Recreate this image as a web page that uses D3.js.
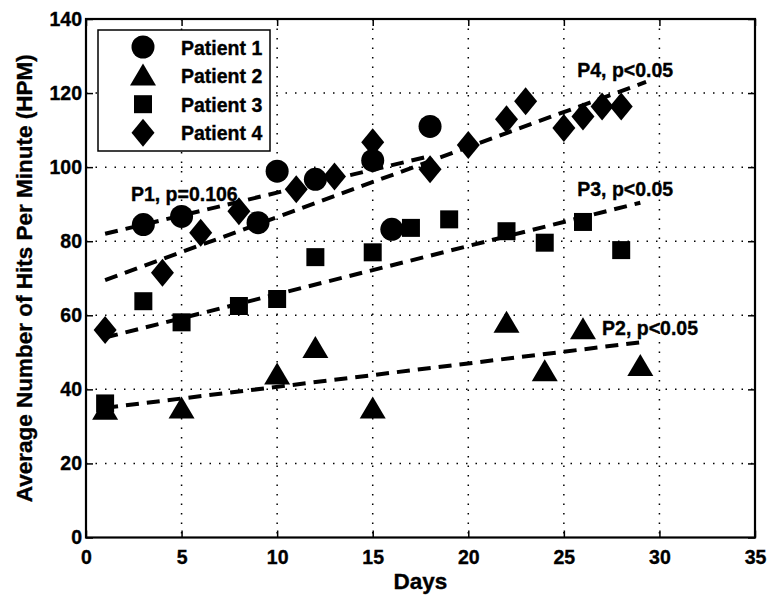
<!DOCTYPE html>
<html>
<head>
<meta charset="utf-8">
<script src="https://cdn.jsdelivr.net/npm/d3@7"></script>
<style>
  body { margin: 0; background: #fff; }
  svg { display: block; }
  text { font-family: "Liberation Sans", Arial, Helvetica, sans-serif; font-weight: bold; fill: #000; stroke: #000; stroke-width: 0.35px; }
</style>
</head>
<body>
<svg id="chart" width="769" height="596"></svg>
<script>
// data
var days1 = [3, 5, 9, 10, 12, 15, 16, 18];
var hpm1  = [84.5, 86.7, 85, 98.9, 96.7, 101.8, 83.2, 111];

var days2 = [1, 5, 10, 12, 15, 22, 24, 26, 29];
var hpm2  = [34.5, 34.8, 44, 51.2, 34.8, 58, 44.9, 56.2, 46.3];

var days3 = [1, 3, 5, 8, 10, 12, 15, 17, 19, 22, 24, 26, 28];
var hpm3  = [36.2, 63.8, 58.1, 62.5, 64.4, 75.7, 77, 83.6, 85.9, 82.7, 79.6, 85.2, 77.6];

var days4 = [1, 4, 6, 8, 11, 13, 15, 18, 20, 22, 23, 25, 26, 27, 28];
var hpm4  = [56, 71.5, 82.3, 88.1, 94, 97.5, 106.7, 99.4, 106, 112.9, 117.8, 110.6, 113.7, 116.4, 116.4];

var patients = ["Patient 1", "Patient 2", "Patient 3", "Patient 4"];

// dashed fit lines (start and end)
var trendDays = [[1, 18], [1, 29], [1, 29], [1, 29.3]];
var trendHpm  = [[82, 103], [35, 52.7], [54, 90.4], [69.5, 123]];

var fitLabels = ["P1, p=0.106", "P2, p<0.05", "P3, p<0.05", "P4, p<0.05"];
var fitLabelDays = [2.35, 27.0, 25.7, 25.7];
var fitLabelHpm  = [90.9, 54.7, 92.3, 124.3];

var xTicks = [0, 5, 10, 15, 20, 25, 30, 35];
var yTicks = [0, 20, 40, 60, 80, 100, 120, 140];

// layout
var plotLeft = 86, plotRight = 755, plotTop = 19, plotBottom = 537.5;

var svg = d3.select("#chart");

var x = d3.scaleLinear().domain([0, 35]).range([plotLeft, plotRight]);
var y = d3.scaleLinear().domain([0, 140]).range([plotBottom, plotTop]);

// marker shapes (MATLAB style o ^ s d)
var shapeTypes = [
  { draw: function(c) { c.moveTo(11.5, 0); c.arc(0, 0, 11.5, 0, 2 * Math.PI); } },
  { draw: function(c) { c.moveTo(0, -12); c.lineTo(13, 10); c.lineTo(-13, 10); c.closePath(); } },
  { draw: function(c) { c.rect(-9, -9, 18, 18); } },
  { draw: function(c) { c.moveTo(0, -14); c.lineTo(11.5, 0); c.lineTo(0, 14); c.lineTo(-11.5, 0); c.closePath(); } }
];

// grid
var grid = svg.append("g").attr("class", "grid");
grid.selectAll("line.gx")
  .data(xTicks.slice(1, -1))
  .enter().append("line")
  .attr("class", "gx")
  .attr("x1", function(d) { return x(d); })
  .attr("x2", function(d) { return x(d); })
  .attr("y1", plotTop).attr("y2", plotBottom);
grid.selectAll("line.gy")
  .data(yTicks.slice(1, -1))
  .enter().append("line")
  .attr("class", "gy")
  .attr("y1", function(d) { return y(d); })
  .attr("y2", function(d) { return y(d); })
  .attr("x1", plotLeft).attr("x2", plotRight);
grid.selectAll("line")
  .attr("stroke", "#000")
  .attr("stroke-width", 1.5)
  .attr("stroke-dasharray", "1.5,8");

// axes, ticks pointing inward on all four sides
function styleAxis(g) {
  g.select(".domain").remove();
  g.selectAll(".tick line").attr("stroke", "#000").attr("stroke-width", 1.5);
  g.selectAll(".tick text")
    .style("font-size", "19.5px")
    .style("font-family", "'Liberation Sans', Arial, sans-serif")
    .style("font-weight", "bold")
    .attr("fill", "#000");
}

svg.append("g")
  .attr("transform", "translate(0," + plotBottom + ")")
  .call(d3.axisBottom(x).tickValues(xTicks).tickSizeInner(-7).tickSizeOuter(0).tickPadding(12.5))
  .call(styleAxis);

svg.append("g")
  .attr("transform", "translate(0," + plotTop + ")")
  .call(d3.axisTop(x).tickValues(xTicks).tickSizeInner(-7).tickSizeOuter(0).tickFormat(""))
  .call(styleAxis);

svg.append("g")
  .attr("transform", "translate(" + plotLeft + ",0)")
  .call(d3.axisLeft(y).tickValues(yTicks).tickSizeInner(-7).tickSizeOuter(0).tickPadding(4))
  .call(styleAxis);

svg.append("g")
  .attr("transform", "translate(" + plotRight + ",0)")
  .call(d3.axisRight(y).tickValues(yTicks).tickSizeInner(-7).tickSizeOuter(0).tickFormat(""))
  .call(styleAxis);

// box
svg.append("rect")
  .attr("x", plotLeft).attr("y", plotTop)
  .attr("width", plotRight - plotLeft).attr("height", plotBottom - plotTop)
  .attr("fill", "none").attr("stroke", "#000").attr("stroke-width", 2.2);

// fit lines
var line = d3.line()
  .x(function(d) { return x(d[0]); })
  .y(function(d) { return y(d[1]); });

svg.selectAll("path.trend")
  .data(trendDays.map(function(ds, i) { return ds.map(function(d, j) { return [d, trendHpm[i][j]]; }); }))
  .enter().append("path")
  .attr("class", "trend")
  .attr("d", line)
  .attr("fill", "none")
  .attr("stroke", "#000")
  .attr("stroke-width", 4)
  .attr("stroke-dasharray", "13,8");

// points
var series = [[days1, hpm1], [days2, hpm2], [days3, hpm3], [days4, hpm4]];
series.forEach(function(s, k) {
  var pts = s[0].map(function(d, i) { return { day: d, hpm: s[1][i] }; });
  svg.append("g").selectAll("path")
    .data(pts)
    .enter().append("path")
    .attr("d", d3.symbol().type(shapeTypes[k]))
    .attr("transform", function(d) { return "translate(" + x(d.day) + "," + y(d.hpm) + ")"; })
    .attr("fill", "#000");
});

// fit labels
svg.selectAll("text.fit")
  .data(fitLabels)
  .enter().append("text")
  .attr("class", "fit")
  .attr("x", function(d, i) { return x(fitLabelDays[i]); })
  .attr("y", function(d, i) { return y(fitLabelHpm[i]); })
  .style("font-size", "19.5px")
  .text(function(d) { return d; });

// legend
var legend = svg.append("g").attr("transform", "translate(98,30)");
legend.append("rect")
  .attr("width", 172).attr("height", 121)
  .attr("fill", "#fff").attr("stroke", "#000").attr("stroke-width", 1.5);

var rows = legend.selectAll("g.row")
  .data(patients)
  .enter().append("g")
  .attr("transform", function(d, i) { return "translate(0," + (17 + i * 28.6) + ")"; });
rows.append("path")
  .attr("d", function(d, i) { return d3.symbol().type(shapeTypes[i])(); })
  .attr("transform", "translate(45,0)")
  .attr("fill", "#000");
rows.append("text")
  .attr("x", 83).attr("y", 7.5)
  .style("font-size", "19.5px")
  .text(function(d) { return d; });

// axis titles
svg.append("text")
  .attr("x", (plotLeft + plotRight) / 2).attr("y", 589)
  .attr("text-anchor", "middle")
  .style("font-size", "22.5px")
  .text("Days");

svg.append("text")
  .attr("transform", "translate(32," + ((plotTop + plotBottom) / 2) + ") rotate(-90)")
  .attr("text-anchor", "middle")
  .style("font-size", "22.5px")
  .text("Average Number of Hits Per Minute (HPM)");
</script>
</body>
</html>
